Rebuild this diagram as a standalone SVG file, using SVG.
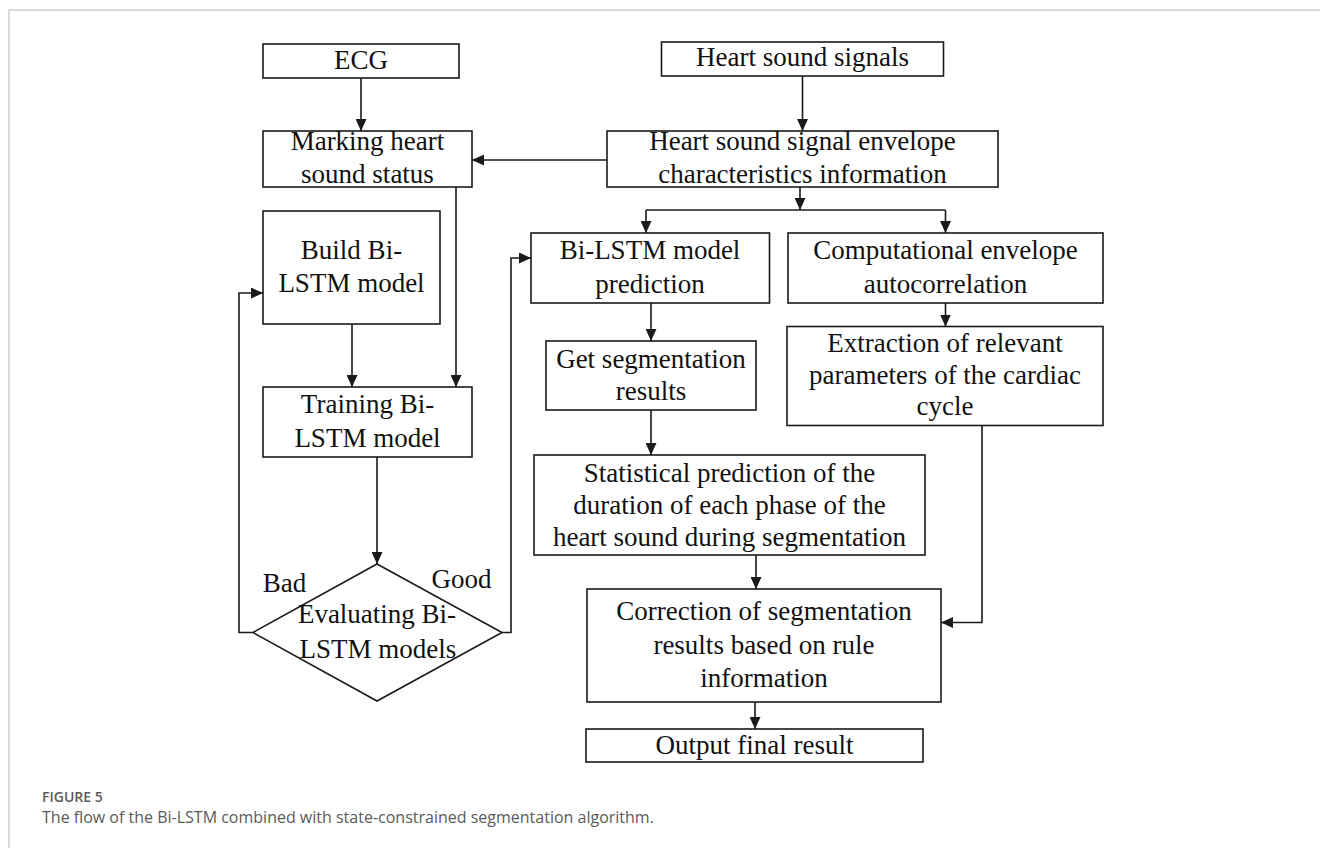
<svg xmlns="http://www.w3.org/2000/svg" width="1320" height="848" viewBox="0 0 1320 848">
<defs>
<style>
.box{fill:#fff;stroke:#1a1a1a;stroke-width:1.6}
.t{font-family:"Liberation Serif","Times New Roman",serif;font-size:27px;fill:#111;text-anchor:middle}
.c{fill:none;stroke:#1a1a1a;stroke-width:1.6}
.a{marker-end:url(#ah)}
.frame{fill:none;stroke:#d9d9d9;stroke-width:2}
.cap1{font-family:"Open Sans","Noto Sans",sans-serif;font-size:14px;font-weight:600;fill:#5a5a5a}
.cap2{font-family:"Open Sans","Noto Sans",sans-serif;font-size:16px;fill:#5a5a5a}
</style>
<marker id="ah" markerUnits="userSpaceOnUse" markerWidth="12" markerHeight="11" refX="12" refY="5.5" orient="auto">
<path d="M0,0 L12,5.5 L0,11 z" fill="#1a1a1a"/>
</marker>
</defs>
<rect width="1320" height="848" fill="#fff"/>
<path class="frame" d="M9,848 V10 H1320"/>

<g id="connectors">
<path class="c a" d="M361,78 V131"/>
<path class="c a" d="M802.5,76 V131"/>
<path class="c a" d="M607,160 H472"/>
<path class="c a" d="M800,187 V210"/>
<path class="c" d="M646,210 H945.5"/>
<path class="c a" d="M646,210 V233"/>
<path class="c a" d="M945.5,210 V233"/>
<path class="c a" d="M456,187 V387"/>
<path class="c a" d="M352,324 V387"/>
<path class="c a" d="M377,457 V564"/>
<path class="c a" d="M253,632.5 H239 V293 H263"/>
<path class="c a" d="M502,632.5 H511 V258 H531"/>
<path class="c a" d="M651,303 V341"/>
<path class="c a" d="M651,410 V455"/>
<path class="c a" d="M945.5,303 V326.5"/>
<path class="c a" d="M756,555 V589"/>
<path class="c a" d="M982,426 V622.5 H941"/>
<path class="c a" d="M755,702 V729"/>
</g>

<g id="ecg">
<rect class="box" x="263" y="44" width="196" height="34"/>
<text class="t" x="361" y="69">ECG</text>
</g>
<g id="heart-sound-signals">
<rect class="box" x="661.5" y="42" width="282" height="34"/>
<text class="t" x="802.5" y="66">Heart sound signals</text>
</g>
<g id="marking">
<rect class="box" x="263" y="131" width="209" height="56"/>
<text class="t" x="367.5" y="149.5">Marking heart</text>
<text class="t" x="367.5" y="182.5">sound status</text>
</g>
<g id="envelope">
<rect class="box" x="607" y="131" width="391" height="56"/>
<text class="t" x="802.5" y="150">Heart sound signal envelope</text>
<text class="t" x="802.5" y="182.5">characteristics information</text>
</g>
<g id="build">
<rect class="box" x="263" y="211" width="177" height="113"/>
<text class="t" x="351.5" y="259">Build Bi-</text>
<text class="t" x="351.5" y="292">LSTM model</text>
</g>
<g id="bilstm-prediction">
<rect class="box" x="531" y="233" width="238.5" height="70"/>
<text class="t" x="650" y="259">Bi-LSTM model</text>
<text class="t" x="650" y="292.5">prediction</text>
</g>
<g id="computational">
<rect class="box" x="788" y="233" width="315" height="70"/>
<text class="t" x="945.5" y="259">Computational envelope</text>
<text class="t" x="945.5" y="292.5">autocorrelation</text>
</g>
<g id="get-segmentation">
<rect class="box" x="546" y="341" width="210" height="69"/>
<text class="t" x="651" y="367.5">Get segmentation</text>
<text class="t" x="651" y="400">results</text>
</g>
<g id="extraction">
<rect class="box" x="787" y="326.5" width="316" height="99"/>
<text class="t" x="945" y="351.5">Extraction of relevant</text>
<text class="t" x="945" y="384">parameters of the cardiac</text>
<text class="t" x="945" y="415">cycle</text>
</g>
<g id="training">
<rect class="box" x="263" y="387" width="209" height="70"/>
<text class="t" x="367.5" y="412.5">Training Bi-</text>
<text class="t" x="367.5" y="446.5">LSTM model</text>
</g>
<g id="statistical">
<rect class="box" x="534" y="455" width="391" height="100"/>
<text class="t" x="729.5" y="481.5">Statistical prediction of the</text>
<text class="t" x="729.5" y="513.5">duration of each phase of the</text>
<text class="t" x="729.5" y="546">heart sound during segmentation</text>
</g>
<g id="evaluating">
<polygon class="box" points="377,564 502,632.5 377,701 253,632.5"/>
<text class="t" x="377" y="623">Evaluating Bi-</text>
<text class="t" x="378" y="658">LSTM models</text>
</g>
<g id="label-bad"><text class="t" x="284.5" y="592">Bad</text></g>
<g id="label-good"><text class="t" x="461.5" y="588">Good</text></g>
<g id="correction">
<rect class="box" x="587" y="589" width="354" height="113"/>
<text class="t" x="764" y="620">Correction of segmentation</text>
<text class="t" x="764" y="653.5">results based on rule</text>
<text class="t" x="764" y="686.5">information</text>
</g>
<g id="output">
<rect class="box" x="586" y="729" width="337" height="33"/>
<text class="t" x="754.5" y="754">Output final result</text>
</g>

<g id="caption">
<text class="cap1" x="42" y="802">FIGURE 5</text>
<text class="cap2" x="42" y="823">The flow of the Bi-LSTM combined with state-constrained segmentation algorithm.</text>
</g>
</svg>
